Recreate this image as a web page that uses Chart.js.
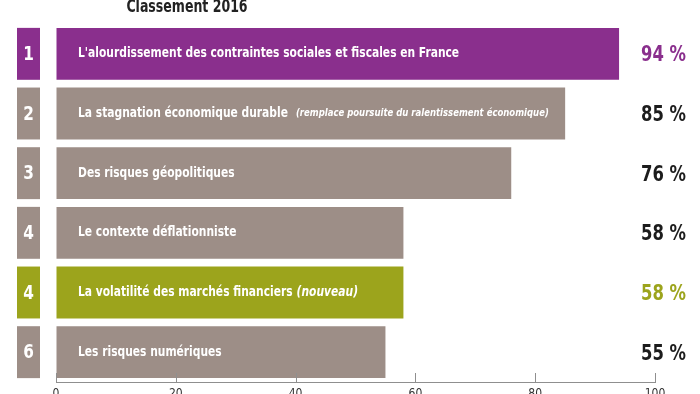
<!DOCTYPE html>
<html><head><meta charset="utf-8">
<script src="https://cdn.jsdelivr.net/npm/chart.js@4"></script>
<style>html,body{margin:0;padding:0;background:#fff}#c{display:block}</style>
</head><body>
<div style="width:700px;height:394px"><canvas id="c" width="700" height="394"></canvas></div>
<script>
const title = "Classement 2016";
const ranks = ["1", "2", "3", "4", "4", "6"];
const categories = [
  "L'alourdissement des contraintes sociales et fiscales en France",
  "La stagnation économique durable",
  "Des risques géopolitiques",
  "Le contexte déflationniste",
  "La volatilité des marchés financiers",
  "Les risques numériques"
];
const notes = ["", "(remplace poursuite du ralentissement économique)", "", "", "(nouveau)", ""];
const values = [94, 85, 76, 58, 58, 55];
const xTicks = [0, 20, 40, 60, 80, 100];

const PURPLE = "#8a2f8d", GREY = "#9d8e87", GREEN = "#9ca41c";
const barColors = [PURPLE, GREY, GREY, GREY, GREEN, GREY];
const pctColors = [PURPLE, "#1c1c1c", "#1c1c1c", "#1c1c1c", GREEN, "#1c1c1c"];
const FONT = "'DejaVu Sans Condensed','DejaVu Sans',sans-serif";

function squeezed(ctx, text, x, y, k) {
  ctx.save();
  ctx.translate(x, y);
  ctx.scale(k, 1);
  ctx.fillText(text, 0, 0);
  const w = ctx.measureText(text).width * k;
  ctx.restore();
  return w;
}

const deco = {
  id: "deco",
  afterDatasetsDraw(chart) {
    const ctx = chart.ctx;
    const meta = chart.getDatasetMeta(0);
    const xs = chart.scales.x;
    ctx.save();
    // title
    ctx.fillStyle = "#222";
    ctx.font = "bold 17px " + FONT;
    ctx.textAlign = "center";
    ctx.textBaseline = "alphabetic";
    squeezed(ctx, title, 187, 12, 0.82);
    // upward tick marks
    ctx.strokeStyle = "#8f8f8f";
    ctx.lineWidth = 1;
    xTicks.forEach(t => {
      const x = Math.round(xs.getPixelForValue(t)) + 0.5;
      ctx.beginPath();
      ctx.moveTo(x, chart.chartArea.bottom);
      ctx.lineTo(x, chart.chartArea.bottom - 9);
      ctx.stroke();
    });
    meta.data.forEach((bar, i) => {
      const h = bar.height;
      const top = bar.y - h / 2;
      // rank box
      ctx.fillStyle = barColors[i];
      ctx.fillRect(17, top, 23, h);
      ctx.fillStyle = "#fff";
      ctx.font = "bold 20px " + FONT;
      ctx.textAlign = "center";
      ctx.textBaseline = "middle";
      squeezed(ctx, ranks[i], 28.5, bar.y + 1, 0.85);
      // label inside bar
      ctx.textAlign = "left";
      ctx.font = "bold 14px " + FONT;
      const x0 = 78;
      const w = squeezed(ctx, categories[i], x0, bar.y, 0.85);
      if (notes[i]) {
        const small = i === 1;
        ctx.font = "italic bold " + (small ? "11px " : "14px ") + FONT;
        squeezed(ctx, notes[i], x0 + w + (small ? 8 : 4), bar.y, small ? 0.86 : 0.85);
      }
      // percentage
      ctx.fillStyle = pctColors[i];
      ctx.font = "bold 21px " + FONT;
      ctx.textAlign = "right";
      squeezed(ctx, values[i] + " %", 686, bar.y + 2, 0.87);
    });
    ctx.restore();
  }
};

new Chart(document.getElementById("c"), {
  type: "bar",
  data: {
    labels: categories,
    datasets: [{
      data: values,
      backgroundColor: barColors,
      borderWidth: 0,
      barPercentage: 0.87,
      categoryPercentage: 1
    }]
  },
  options: {
    indexAxis: "y",
    responsive: false,
    animation: false,
    events: [],
    layout: { padding: { left: 56, right: 45, top: 24, bottom: 0 } },
    plugins: { legend: { display: false }, tooltip: { enabled: false }, title: { display: false } },
    scales: {
      y: { display: false },
      x: {
        min: 0, max: 100,
        afterBuildTicks: s => { s.ticks = xTicks.map(v => ({ value: v })); },
        afterFit: s => { s.height = 12; },
        grid: { display: true, drawOnChartArea: false, drawTicks: false },
        border: { display: true, color: "#8f8f8f", width: 1 },
        ticks: { padding: 5, color: "#333", font: { family: FONT, size: 12 } }
      }
    }
  },
  plugins: [deco]
});
</script>
</body></html>
